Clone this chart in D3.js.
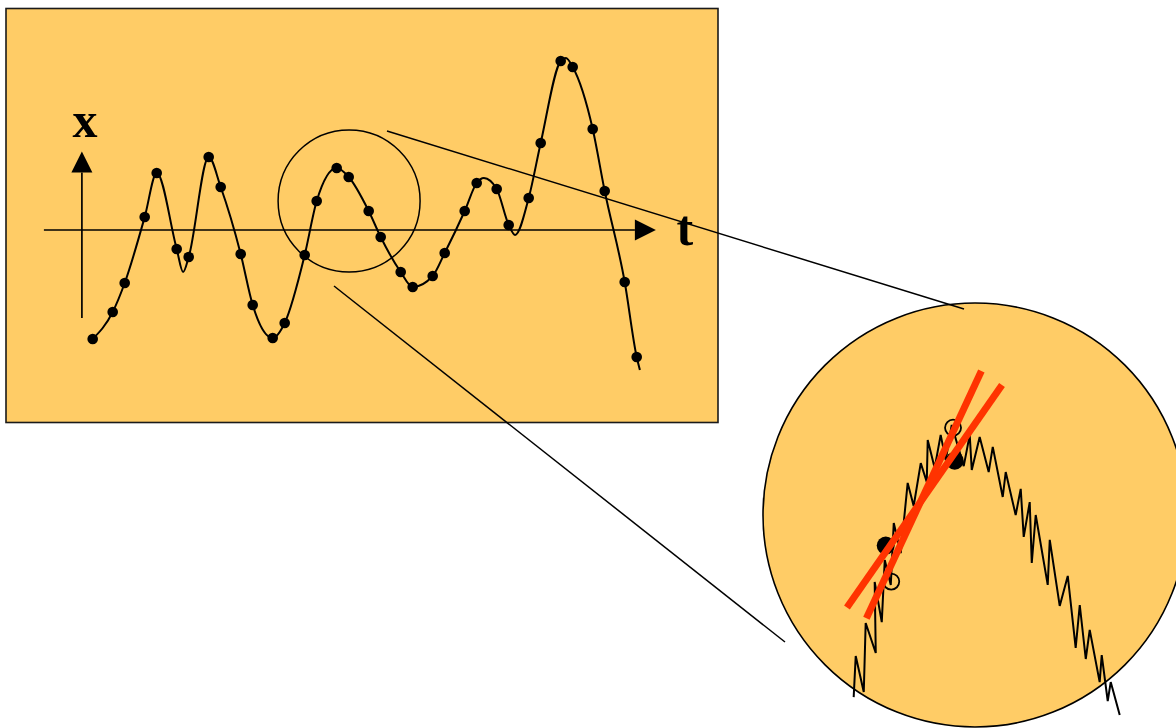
<!DOCTYPE html>
<html>
<head>
<meta charset="utf-8">
<script src="https://cdn.jsdelivr.net/npm/d3@7"></script>
<style>
  html, body { margin: 0; padding: 0; background: #ffffff; }
  svg { display: block; }
</style>
</head>
<body>
<svg id="chart" width="1176" height="728"></svg>
<script>
// ---- Sampled signal x(t): sampling instants and sampled values ----
const sampleT = [3, 8, 11, 16, 19, 24, 27, 32, 35, 40, 43, 48, 51, 56, 59, 64, 67, 72, 75, 80,
                 83, 88, 91, 96, 99, 104, 107, 112, 115, 120, 123, 128, 131, 136, 139];
const sampleX = [-10.9, -8.2, -5.3, 1.3, 5.7, -1.9, -2.7, 7.3, 4.3, -2.4, -7.5, -10.8, -9.3, -2.5, 2.9,
                 6.2, 5.3, 1.9, -0.7, -4.2, -5.7, -4.6, -2.3, 1.9, 4.7, 4.1, 0.5, 3.2, 8.7, 16.9,
                 16.3, 10.1, 3.9, -5.2, -12.7];

// Turning points of the continuous trace that fall between samples, plus its end
const extraT = [25.6, 100.8, 108.6, 121.3, 139.8];
const extraX = [-4.2, 5.2, -0.5, 17.2, -14.0];

// ---- Magnified view: noisy fine-grained trace around the lens ----
const noiseT = [56.99, 57.16, 57.83, 57.99, 58.83, 58.74, 59.33, 59.58, 60.08, 60.33, 60.91, 61.49,
                61.99, 62.58, 63.08, 63.16, 63.74, 64.24, 64.66, 65.16, 66.16, 66.66, 66.83, 67.49,
                68.24, 68.58, 69.41, 69.66, 70.49, 70.91, 71.16, 71.66, 71.83, 72.16, 73.16, 73.33,
                74.16, 74.83, 75.49, 75.83, 76.33, 76.66, 77.49, 77.66, 78.16, 78.41, 79.16];
const noiseX = [-3.17, -1.80, -3.00, -0.70, -1.70, 0.67, -0.67, 1.40, 0.57, 2.63, 1.63, 3.97,
                3.20, 4.63, 4.00, 5.40, 4.47, 5.57, 4.73, 5.90, 4.53, 5.57, 4.40, 5.50,
                4.33, 5.17, 3.50, 4.33, 2.90, 3.77, 2.17, 3.33, 1.30, 2.90, 0.57, 2.07,
                -0.13, 0.87, -1.53, -0.10, -1.90, -0.93, -2.67, -1.77, -3.30, -2.67, -3.77];

// Measured samples (filled) and true values (open) in the magnified view
const measuredT = [59.66, 65.41];
const measuredX = [1.88, 4.71];
const trueT = [60.12, 65.27];
const trueX = [0.68, 5.81];

// Two straight-line fits through neighbouring points (start, end)
const fitAT = [56.43, 69.35];
const fitAX = [-0.18, 7.23];
const fitBT = [58.05, 67.63];
const fitBX = [-0.54, 7.70];

// Centre of the lens on the main trace
const lensT = 67.1;
const lensX = 2.9;

// Axis extents (data units); the x axis stands just right of t = 0
const axisT = [-9.2, 143.8];
const axisX = [-8.8, 7.85];
const axisOriginT = 0.3;

// ---- Layout ----
const FILL = "#ffcc66";
const INK = "#000000";
const RED = "#ff3300";
const frame = { x: 6, y: 8.5, w: 712, h: 414 };
const lensR = 71;
const inset = { cx: 975, cy: 515, r: 212, mag: 3 };
const arrowLen = 21, arrowHalf = 10.5;

const svg = d3.select("#chart");

const tScale = d3.scaleLinear().domain([0, 140]).range([80.7, 640.7]);
const xScale = d3.scaleLinear().domain([0, 10]).range([230, 130]);

// Magnified scales: main scales blown up about the lens centre
const lensPx = tScale(lensT), lensPy = xScale(lensX);
const tInset = d3.scaleLinear().domain(tScale.domain())
  .range(tScale.range().map(r => inset.cx + inset.mag * (r - lensPx)));
const xInset = d3.scaleLinear().domain(xScale.domain())
  .range(xScale.range().map(r => inset.cy + inset.mag * (r - lensPy)));

// ---- Main panel ----
svg.append("rect")
  .attr("x", frame.x).attr("y", frame.y)
  .attr("width", frame.w).attr("height", frame.h)
  .attr("fill", FILL).attr("stroke", "#1a1a1a").attr("stroke-width", 1.6);

// Axes with arrowheads
const t0 = tScale(axisOriginT), x0 = xScale(0);
const tTip = tScale(axisT[1]), xTip = xScale(axisX[1]);
svg.append("line")
  .attr("x1", tScale(axisT[0])).attr("x2", tTip - arrowLen)
  .attr("y1", x0).attr("y2", x0)
  .attr("stroke", INK).attr("stroke-width", 1.7);
svg.append("path")
  .attr("d", `M${tTip},${x0} L${tTip - arrowLen},${x0 - arrowHalf} L${tTip - arrowLen},${x0 + arrowHalf} Z`)
  .attr("fill", INK);
svg.append("line")
  .attr("x1", t0).attr("x2", t0)
  .attr("y1", xScale(axisX[0])).attr("y2", xTip + arrowLen)
  .attr("stroke", INK).attr("stroke-width", 1.7);
svg.append("path")
  .attr("d", `M${t0},${xTip} L${t0 - arrowHalf},${xTip + arrowLen} L${t0 + arrowHalf},${xTip + arrowLen} Z`)
  .attr("fill", INK);

const labelFont = "'Liberation Serif', 'Times New Roman', serif";
svg.append("text")
  .attr("x", t0 + 3).attr("y", 137)
  .attr("text-anchor", "middle")
  .attr("font-family", labelFont).attr("font-weight", "bold").attr("font-size", 50)
  .attr("fill", INK).text("x");
svg.append("text")
  .attr("x", tTip + 29).attr("y", 245)
  .attr("text-anchor", "middle")
  .attr("font-family", labelFont).attr("font-weight", "bold").attr("font-size", 50)
  .attr("fill", INK).text("t");

// Continuous trace through samples and turning points
const trace = sampleT.map((t, i) => [t, sampleX[i]])
  .concat(extraT.map((t, i) => [t, extraX[i]]))
  .sort((a, b) => a[0] - b[0]);
svg.append("path")
  .datum(trace)
  .attr("d", d3.line().x(d => tScale(d[0])).y(d => xScale(d[1])).curve(d3.curveMonotoneX))
  .attr("fill", "none").attr("stroke", INK).attr("stroke-width", 2);

svg.append("g").selectAll("circle")
  .data(sampleT.map((t, i) => [t, sampleX[i]]))
  .join("circle")
  .attr("cx", d => tScale(d[0])).attr("cy", d => xScale(d[1]))
  .attr("r", 5.3).attr("fill", INK);

// Lens
svg.append("circle")
  .attr("cx", lensPx).attr("cy", lensPy).attr("r", lensR)
  .attr("fill", "none").attr("stroke", INK).attr("stroke-width", 1.5);

// ---- Magnified view ----
svg.append("circle")
  .attr("cx", inset.cx).attr("cy", inset.cy).attr("r", inset.r)
  .attr("fill", FILL).attr("stroke", INK).attr("stroke-width", 1.6);

svg.append("path")
  .datum(noiseT.map((t, i) => [t, noiseX[i]]))
  .attr("d", d3.line().x(d => tInset(d[0])).y(d => xInset(d[1])))
  .attr("fill", "none").attr("stroke", INK).attr("stroke-width", 2)
  .attr("stroke-linejoin", "miter").attr("stroke-miterlimit", 4);

svg.append("g").selectAll("circle")
  .data(measuredT.map((t, i) => [t, measuredX[i]]))
  .join("circle")
  .attr("cx", d => tInset(d[0])).attr("cy", d => xInset(d[1]))
  .attr("r", 9).attr("fill", INK);

svg.append("g").selectAll("circle")
  .data(trueT.map((t, i) => [t, trueX[i]]))
  .join("circle")
  .attr("cx", d => tInset(d[0])).attr("cy", d => xInset(d[1]))
  .attr("r", 8).attr("fill", "none").attr("stroke", INK).attr("stroke-width", 1.8);

[[fitAT, fitAX], [fitBT, fitBX]].forEach(([ts, xs]) => {
  svg.append("line")
    .attr("x1", tInset(ts[0])).attr("y1", xInset(xs[0]))
    .attr("x2", tInset(ts[1])).attr("y2", xInset(xs[1]))
    .attr("stroke", RED).attr("stroke-width", 7);
});

// Callout lines from the lens to the magnified view
const callouts = [
  [[387, 131], [964, 309]],
  [[334, 286], [785, 642]]
];
callouts.forEach(([a, b]) => {
  svg.append("line")
    .attr("x1", a[0]).attr("y1", a[1]).attr("x2", b[0]).attr("y2", b[1])
    .attr("stroke", INK).attr("stroke-width", 1.5);
});
</script>
</body>
</html>
